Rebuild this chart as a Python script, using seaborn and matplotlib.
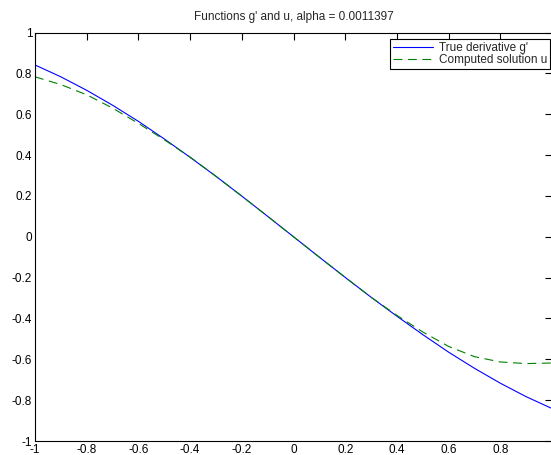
import numpy as np
import pandas as pd
import matplotlib
matplotlib.use('Agg')
import matplotlib.pyplot as plt
import seaborn as sns

# values
x_vals = [-1.0, -0.9, -0.8, -0.7, -0.6, -0.5, -0.4, -0.3, -0.2, -0.1, 0.0,
          0.1, 0.2, 0.3, 0.4, 0.5, 0.6, 0.7, 0.8, 0.9, 1.0]
true_deriv = [0.841, 0.783, 0.717, 0.644, 0.565, 0.479, 0.389, 0.296, 0.199, 0.100, 0.0,
              -0.100, -0.199, -0.296, -0.389, -0.479, -0.565, -0.644, -0.717, -0.783, -0.841]
computed_u = [0.783, 0.745, 0.695, 0.630, 0.555, 0.475, 0.390, 0.296, 0.199, 0.100, 0.0,
              -0.100, -0.199, -0.296, -0.385, -0.466, -0.537, -0.587, -0.613, -0.621, -0.618]

labels = ["True derivative g'", "Computed solution u"]
title = "Functions g' and u, alpha = 0.0011397"
ticks = [-1, -0.8, -0.6, -0.4, -0.2, 0, 0.2, 0.4, 0.6, 0.8, 1]
ytick_labels = ['-1', '-0.8', '-0.6', '-0.4', '-0.2', '0', '0.2', '0.4', '0.6', '0.8', '1']
# the "1" on the x axis falls outside the cropped picture
xtick_labels = ['-1', '-0.8', '-0.6', '-0.4', '-0.2', '0', '0.2', '0.4', '0.6', '0.8', '']

df_true = pd.DataFrame({'x': x_vals, 'y': true_deriv})
df_u = pd.DataFrame({'x': x_vals, 'y': computed_u})

sns.set_style('white')
plt.rcParams['font.family'] = ['Liberation Sans', 'DejaVu Sans']
fs = 8.5

fig = plt.figure(figsize=(5.51, 4.55), dpi=100)
ax = fig.add_axes([35 / 551, 14 / 455, 517 / 551, 408.5 / 455])

sns.lineplot(data=df_true, x='x', y='y', ax=ax, color=(0, 0, 1), linewidth=0.8,
             label=labels[0])
sns.lineplot(data=df_u, x='x', y='y', ax=ax, color=(0, 0.5, 0), linewidth=0.8,
             linestyle=(0, (8, 5)), label=labels[1])

ax.set_xlim(-1, 1)
ax.set_ylim(-1, 1)
ax.set_xticks(ticks)
ax.set_xticklabels(xtick_labels)
ax.set_yticks(ticks)
ax.set_yticklabels(ytick_labels)
ax.set_xlabel('')
ax.set_ylabel('')
ax.tick_params(direction='in', length=5, width=0.8, colors='black', labelsize=fs,
               top=True, right=True, pad=2)
for s in ax.spines.values():
    s.set_color('black')
    s.set_linewidth(0.8)

ax.set_title(title, fontsize=fs, pad=9)

leg = ax.legend(loc='upper right', bbox_to_anchor=(0.996, 0.984), borderaxespad=0,
                fontsize=fs, frameon=True, fancybox=False, framealpha=1,
                edgecolor='black', handlelength=3.4, handletextpad=0.5,
                labelspacing=0.0, borderpad=0.25)
leg.get_frame().set_linewidth(0.8)

fig.savefig('out.png', dpi=100)
